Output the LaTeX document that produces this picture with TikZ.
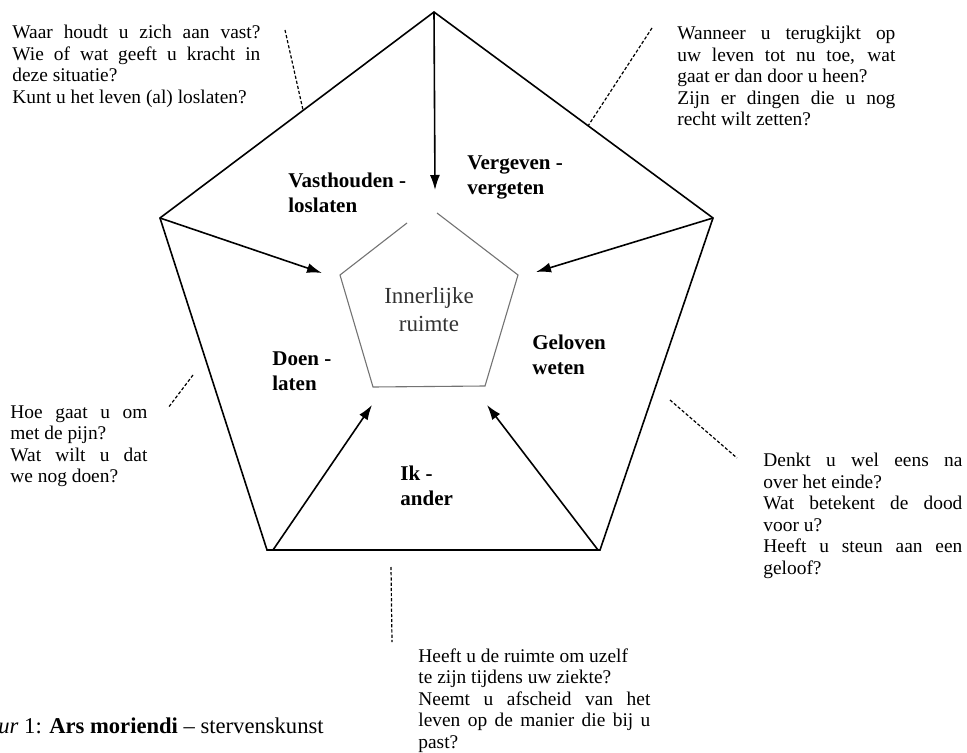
\documentclass[tikz,border=0pt]{standalone}
\usepackage{fontspec}
\setmainfont{Liberation Serif}
\usetikzlibrary{arrows.meta}
\tolerance=10000
\hyphenpenalty=10000

\begin{document}
\begin{tikzpicture}[x=0.5pt,y=-0.5pt]

      \useasboundingbox (0,0) rectangle (967,753);

      \coordinate (top) at (434,12);
      \coordinate (left) at (160,218);
      \coordinate (right) at (713,218);
      \coordinate (botleft) at (267,550);
      \coordinate (botright) at (600,550);

      \coordinate (itl) at (407,223);
      \coordinate (il) at (340,275);
      \coordinate (ibl) at (373,387);
      \coordinate (ibr) at (485,386);
      \coordinate (ir) at (518,275);
      \coordinate (itr) at (437,213);

      \coordinate (tiptop) at (435,190);
      \coordinate (tipleft) at (322,273);
      \coordinate (tipright) at (536,272);
      \coordinate (tipbl) at (372,405);
      \coordinate (tipbr) at (487,405);

      \draw[line width=0.8pt] (top) -- (right) -- (botright) -- (botleft) -- (left) -- cycle;
      \draw[black!55,line width=0.55pt] (itl) -- (il) -- (ibl) -- (ibr) -- (ir) -- (itr);

      \begin{scope}[every edge/.style={draw,line width=0.8pt,-{Latex[length=7.5pt,width=5pt]}}]
        \path (top) edge (tiptop);
        \path (left) edge (tipleft);
        \path (right) edge (tipright);
        \path ([xshift=3pt]botleft) edge (tipbl);
        \path ([xshift=-1pt]botright) edge (tipbr);
      \end{scope}

      \begin{scope}[every path/.style={draw,line width=0.6pt,dash pattern=on 1.6pt off 1pt}]
        \coordinate (d1a) at (285,30);
        \coordinate (d1b) at (303,110);
        \coordinate (d2a) at (652,28);
        \coordinate (d2b) at (588,126);
        \coordinate (d3a) at (193,375);
        \coordinate (d3b) at (168,408);
        \coordinate (d4a) at (670,400);
        \coordinate (d4b) at (737,458);
        \coordinate (d5a) at (391,567);
        \coordinate (d5b) at (392,642);
        \path (d1a) -- (d1b);
        \path (d2a) -- (d2b);
        \path (d3a) -- (d3b);
        \path (d4a) -- (d4b);
        \path (d5a) -- (d5b);
      \end{scope}

      \node[font=\fontsize{11.5}{14}\selectfont,text=black!80,align=center,anchor=north,inner sep=0pt] (inner) at (429,287) {Innerlijke\\ruimte};

      \begin{scope}[every node/.style={font=\fontsize{10.5}{12.5}\selectfont\bfseries,align=left,anchor=north west,inner sep=0pt}]
        \node (vast) at (288,173) {Vasthouden -\\loslaten};
        \node (verg) at (467,155) {Vergeven -\\vergeten};
        \node (gel) at (532,335) {Geloven\\weten};
        \node (doen) at (272,351) {Doen -\\laten};
        \node (ik) at (400,466) {Ik -\\ander};
      \end{scope}

      \begin{scope}[every node/.style={font=\fontsize{9.7}{10.75}\selectfont,align=justify,anchor=north west,inner sep=0pt}]
        \node[text width=124pt] (qvast) at (12,25) {Waar houdt u zich aan vast?\linebreak Wie of wat geeft u kracht in\linebreak deze situatie?\\ Kunt u het leven (al) loslaten?};
        \node[text width=109pt] (qterug) at (677,26) {Wanneer u terugkijkt op\linebreak uw leven tot nu toe, wat\linebreak gaat er dan door u heen?\\ Zijn er dingen die u nog\linebreak recht wilt zetten?};
        \node[text width=68.5pt] (qpijn) at (10,405) {Hoe gaat u om\linebreak met de pijn?\\ Wat wilt u dat\linebreak we nog doen?};
        \node[text width=99.5pt] (qdood) at (763,453) {Denkt u wel eens na\linebreak over het einde?\\ Wat betekent de dood\linebreak voor u?\\ Heeft u steun aan een\linebreak geloof?};
        \node[text width=116pt] (qruimte) at (418,648) {Heeft u de ruimte om uzelf\\ te zijn tijdens uw ziekte?\\ Neemt u afscheid van het\linebreak leven op de manier die bij u\linebreak past?};
      \end{scope}

      \node[font=\fontsize{11.3}{13}\selectfont,anchor=base west,inner sep=0pt] (caption) at (-2,733) {\textit{ur} 1: \textbf{Ars moriendi} – stervenskunst};

\end{tikzpicture}
\end{document}
